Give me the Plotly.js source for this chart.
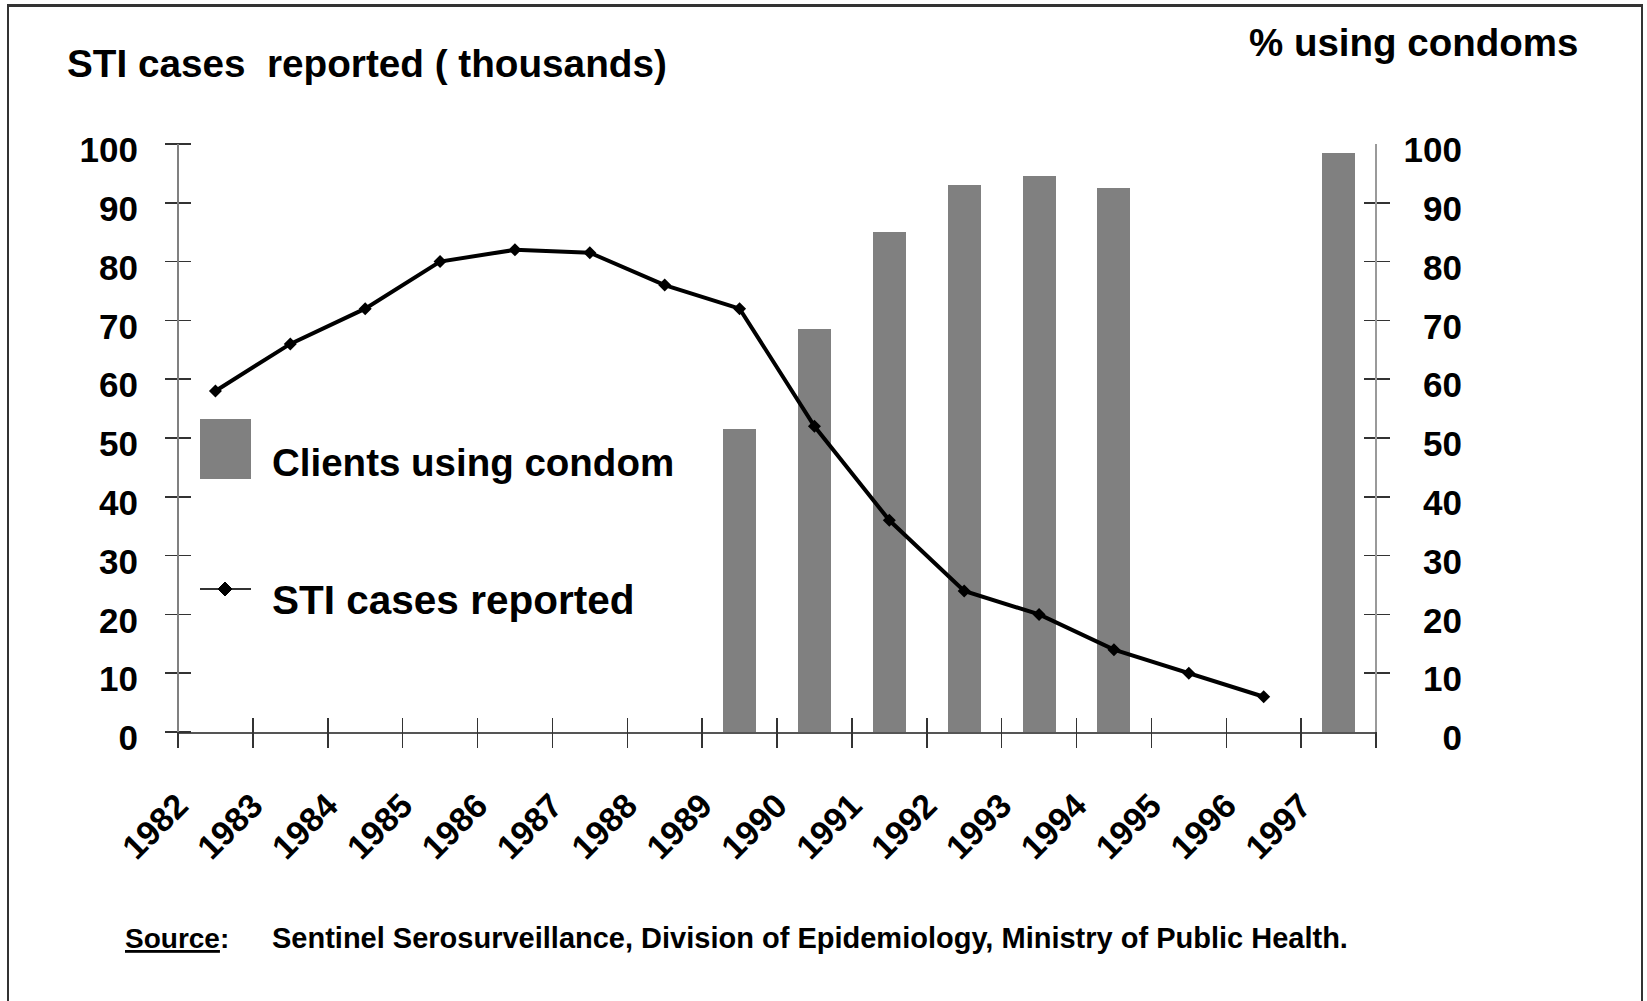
<!DOCTYPE html>
<html>
<head>
<meta charset="utf-8">
<script src="https://cdn.plot.ly/plotly-3.0.1.min.js"></script>
<style>
  html, body { margin: 0; padding: 0; background: #fff; }
  #chart { position: absolute; left: 0; top: 0; width: 1647px; height: 1001px; }
  #frame { position: absolute; left: 7px; top: 4px; width: 1632px; height: 1010px;
           border-left: 2px solid #333; border-right: 2px solid #333; border-top: 3px solid #333;
           pointer-events: none; }
</style>
</head>
<body>
<div id="chart"></div>
<div id="frame"></div>
<script>
// ---- data ----
const years = [1982, 1983, 1984, 1985, 1986, 1987, 1988, 1989, 1990, 1991, 1992, 1993, 1994, 1995, 1996, 1997];
const yearLabels = years.map(String);
const stiCases = [58, 66, 72, 80, 82, 81.5, 76, 72, 52, 36, 24, 20, 14, 10, 6, null];       // thousands
const condomPct = [null, null, null, null, null, null, null, 51.5, 68.5, 85, 93, 94.5, 92.5, null, null, 98.5]; // %
const yTicks = [0, 10, 20, 30, 40, 50, 60, 70, 80, 90, 100];
const seriesNames = ['Clients using condom', 'STI cases reported'];
const leftTitle = 'STI cases\u00a0 reported ( thousands)';
const rightTitle = '% using condoms';
const sourceLabel = 'Source';
const sourceText = 'Sentinel Serosurveillance, Division of Epidemiology, Ministry of Public Health.';

// category boundaries (ticks sit between years, labels attached to them)
const boundaries = years.map(y => y - 0.5).concat([years[years.length - 1] + 0.5]);
const boundaryText = yearLabels.concat(['']);
const xRange = [boundaries[0], boundaries[boundaries.length - 1]];

// geometry of the plot area (px)
const W = 1647, H = 1001;
const M = { l: 178, r: 271, t: 144, b: 269 };
const plotW = W - M.l - M.r, plotH = H - M.t - M.b;
const XT = 15, YT = 13;   // half-lengths of the crossing tick marks

const FONT = 'Liberation Sans, Arial, Helvetica, sans-serif';
const GRAY = '#808080';

const traces = [
  {
    type: 'bar', name: seriesNames[0], x: years, y: condomPct,
    xaxis: 'x', yaxis: 'y', width: 0.44,
    marker: { color: GRAY, line: { width: 0 } }, showlegend: false
  },
  {
    type: 'scatter', mode: 'lines+markers', name: seriesNames[1], x: years, y: stiCases,
    xaxis: 'x2', yaxis: 'y2',
    line: { color: '#000', width: 4 },
    marker: { symbol: 'diamond', size: 10, color: '#000' }, showlegend: false
  }
];

const tickFont = { family: FONT, size: 35, color: '#000', weight: 'bold' };
const commonY = { range: [0, 100], tickmode: 'array', tickvals: yTicks, showgrid: false, zeroline: false,
                  fixedrange: true, showline: false, tickwidth: 1.5, tickcolor: '#333' };

const layout = {
  width: W, height: H,
  margin: { l: M.l, r: M.r, t: M.t, b: M.b, pad: 0 },
  paper_bgcolor: '#fff', plot_bgcolor: 'rgba(0,0,0,0)',
  showlegend: false,
  bargap: 0,
  font: { family: FONT, color: '#000' },
  // x axis carrying ticks (crossing the baseline) and year labels
  xaxis: {
    type: 'linear', range: xRange, anchor: 'free', position: XT / plotH, side: 'bottom',
    tickmode: 'array', tickvals: boundaries, ticktext: boundaryText,
    ticks: 'outside', ticklen: 2 * XT, tickwidth: 1.5, tickcolor: '#333',
    showline: false, showgrid: false, zeroline: false, tickangle: -45,
    tickfont: { family: FONT, size: 34, color: '#000', weight: 'bold' },
    ticklabelstandoff: 24
  },
  // x axis carrying the baseline
  xaxis2: {
    overlaying: 'x', anchor: 'y2', side: 'bottom', type: 'linear', range: xRange,
    ticks: '', showticklabels: false, showline: true, linecolor: '#555', linewidth: 2,
    showgrid: false, zeroline: false
  },
  // right axis (% using condoms), labels right-aligned like the original
  yaxis: Object.assign({}, commonY, {
    side: 'left', anchor: 'free', position: 1 - YT / plotW,
    ticks: 'inside', ticklen: 2 * YT,
    tickfont: tickFont, ticklabelstandoff: -99, ticklabelshift: 6
  }),
  // left axis (STI cases, thousands)
  yaxis2: Object.assign({}, commonY, {
    overlaying: 'y', side: 'left', anchor: 'free', position: YT / plotW,
    ticks: 'outside', ticklen: 2 * YT,
    tickfont: tickFont, ticklabelstandoff: 20, ticklabelshift: 6
  }),
  shapes: [
    // vertical axis lines
    { type: 'line', xref: 'paper', yref: 'paper', x0: 0, x1: 0, y0: 0, y1: 1, line: { color: GRAY, width: 2 } },
    { type: 'line', xref: 'paper', yref: 'paper', x0: 1, x1: 1, y0: 0, y1: 1, line: { color: '#9a9a9a', width: 2 } },
    // legend swatch: bar
    { type: 'rect', xref: 'paper', yref: 'paper', xsizemode: 'pixel', ysizemode: 'pixel',
      xanchor: 0, yanchor: 1, x0: 22, x1: 73, y0: -275, y1: -335,
      fillcolor: GRAY, line: { width: 0 } },
    // legend swatch: line
    { type: 'line', xref: 'paper', yref: 'paper', xsizemode: 'pixel', ysizemode: 'pixel',
      xanchor: 0, yanchor: 1, x0: 22, x1: 73, y0: -445, y1: -445,
      line: { color: '#333', width: 2 } },
    { type: 'path', xref: 'paper', yref: 'paper', xsizemode: 'pixel', ysizemode: 'pixel',
      xanchor: 0, yanchor: 1, path: 'M 47 -438 L 54 -445 L 47 -452 L 40 -445 Z',
      fillcolor: '#000', line: { color: '#000', width: 1 } }
  ],
  annotations: [
    { text: seriesNames[0], xref: 'paper', yref: 'paper', x: 0, y: 1, xanchor: 'left', yanchor: 'middle',
      xshift: 92, yshift: -318, showarrow: false, font: { family: FONT, size: 38.5, weight: 'bold', color: '#000' } },
    { text: seriesNames[1], xref: 'paper', yref: 'paper', x: 0, y: 1, xanchor: 'left', yanchor: 'middle',
      xshift: 92, yshift: -456, showarrow: false, font: { family: FONT, size: 40.5, weight: 'bold', color: '#000' } },
    { text: leftTitle, xref: 'paper', yref: 'paper', x: 0, y: 1, xanchor: 'left', yanchor: 'middle',
      xshift: -113, yshift: 81, showarrow: false, font: { family: FONT, size: 38.7, weight: 'bold', color: '#000' } },
    { text: rightTitle, xref: 'paper', yref: 'paper', x: 1, y: 1, xanchor: 'left', yanchor: 'middle',
      xshift: -129, yshift: 102, showarrow: false, font: { family: FONT, size: 38.5, weight: 'bold', color: '#000' } },
    { text: '<u>' + sourceLabel + '</u>:', xref: 'paper', yref: 'paper', x: 0, y: 0, xanchor: 'left', yanchor: 'middle',
      xshift: -55, yshift: -206, showarrow: false, font: { family: FONT, size: 28, weight: 'bold', color: '#000' } },
    { text: sourceText, xref: 'paper', yref: 'paper', x: 0, y: 0, xanchor: 'left', yanchor: 'middle',
      xshift: 92, yshift: -206, showarrow: false, font: { family: FONT, size: 29, weight: 'bold', color: '#000' } }
  ]
};

Plotly.newPlot('chart', traces, layout, { staticPlot: true, displayModeBar: false });
</script>
</body>
</html>
